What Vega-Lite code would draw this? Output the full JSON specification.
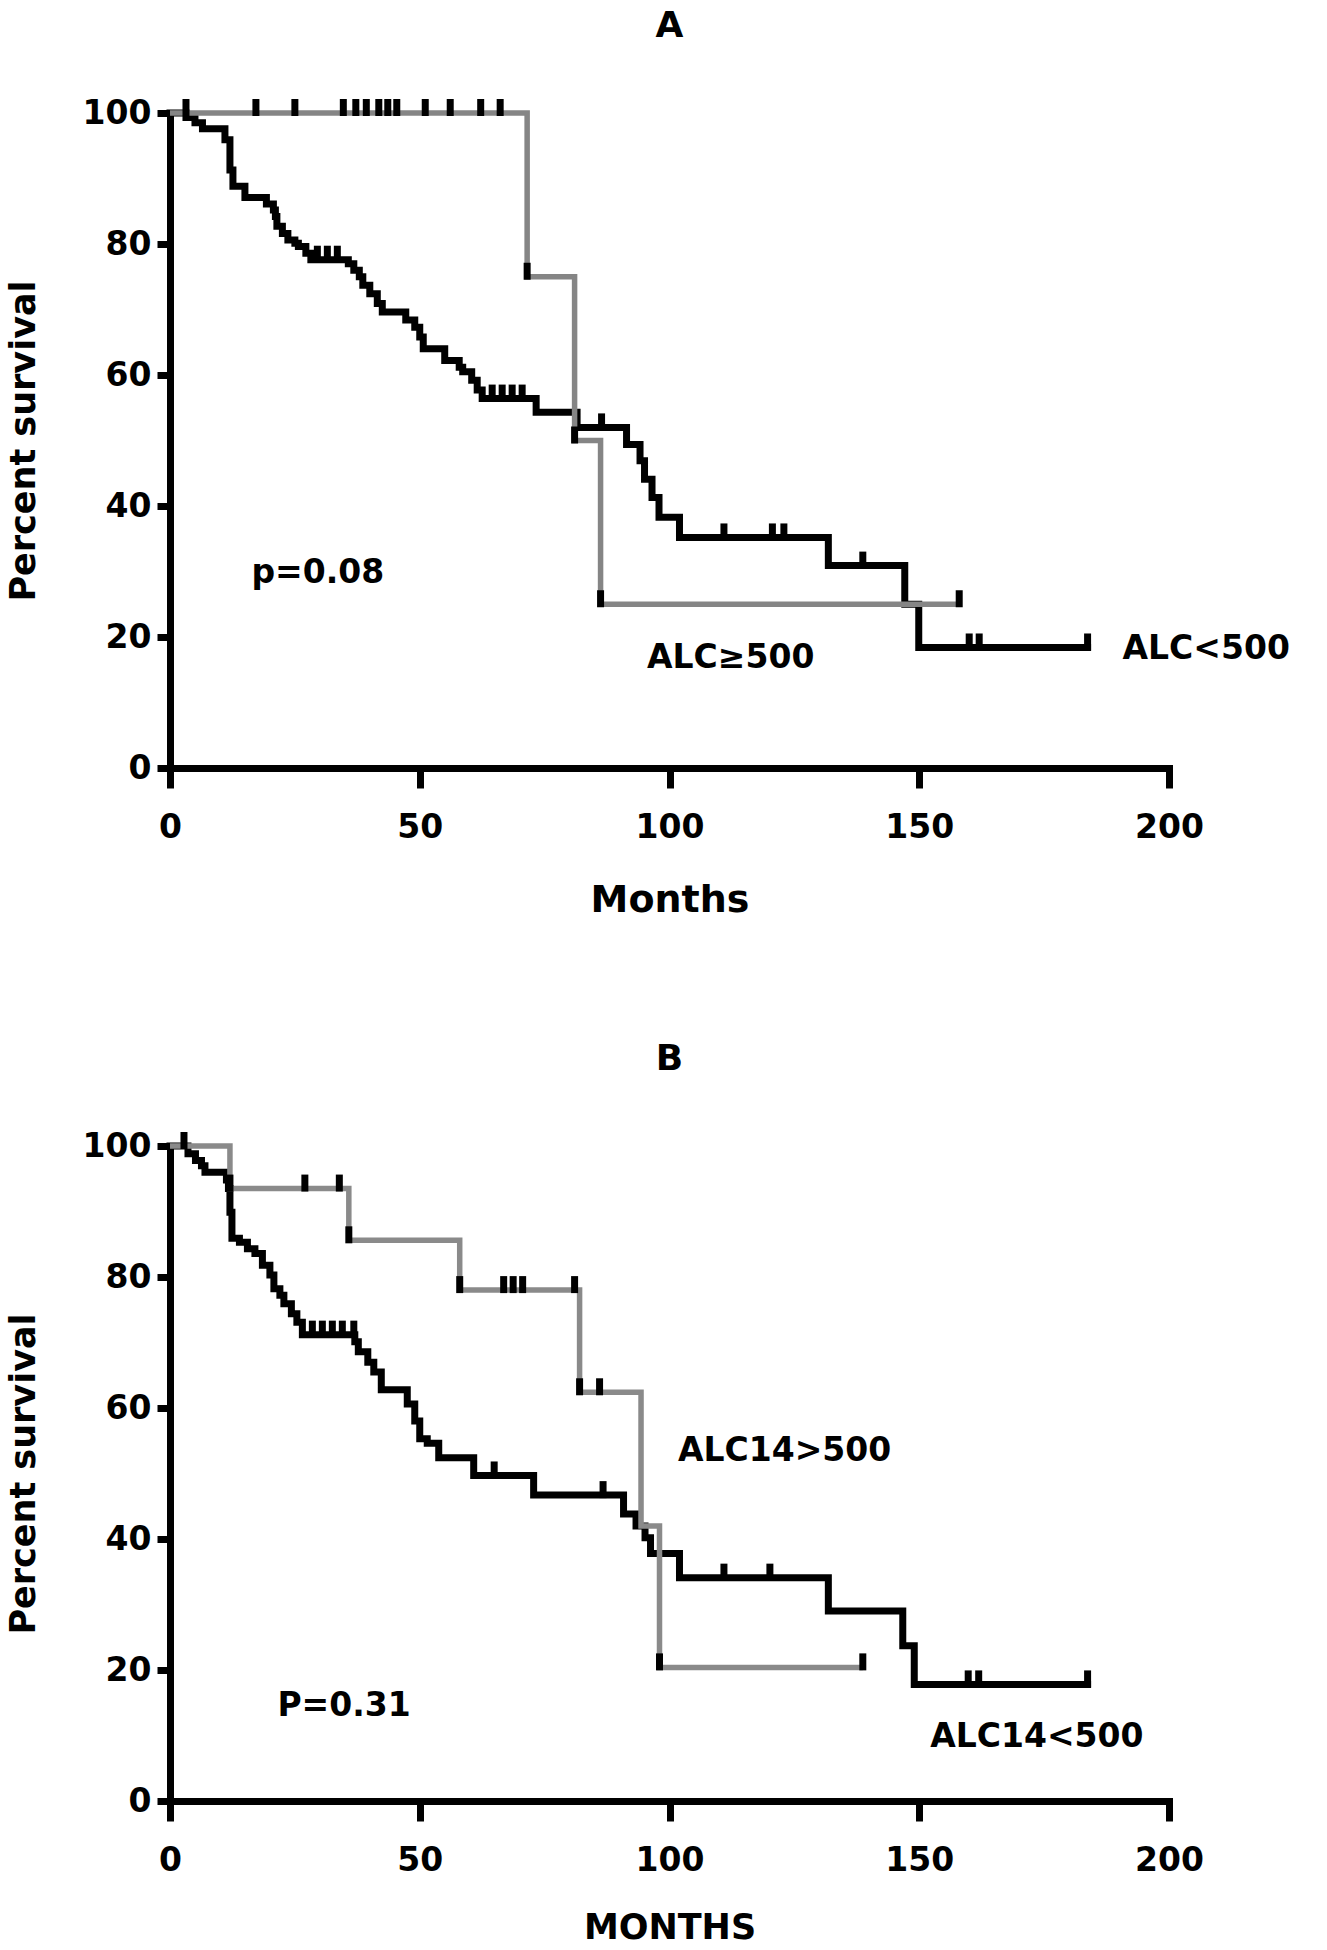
{
  "$schema": "https://vega.github.io/schema/vega-lite/v6.json",
  "background": "white",
  "padding": {"left": 6, "top": 8, "right": 5, "bottom": 2},
  "spacing": 122,
  "config": {
    "view": {"stroke": null},
    "axis": {"grid": false, "domainColor": "black", "tickColor": "black", "labelColor": "black", "titleColor": "black", "labelFont": "DejaVu Sans", "titleFont": "DejaVu Sans", "labelFontWeight": "bold", "titleFontWeight": "bold", "labelFlush": false, "domainCap": "square", "domainWidth": 7, "tickWidth": 7},
    "title": {"font": "DejaVu Sans", "fontWeight": "bold", "fontSize": 36, "color": "black", "anchor": "middle"}
  },
  "datasets": {
    "curves": [
      {"panel":"A","group":"lt","month":0,"surv":100},{"panel":"A","group":"lt","month":3.2,"surv":99.3},{"panel":"A","group":"lt","month":5.0,"surv":98.5},{"panel":"A","group":"lt","month":6.5,"surv":97.6},{"panel":"A","group":"lt","month":11.0,"surv":95.9},{"panel":"A","group":"lt","month":12.0,"surv":91.3},{"panel":"A","group":"lt","month":12.6,"surv":88.8},{"panel":"A","group":"lt","month":15.0,"surv":87.1},{"panel":"A","group":"lt","month":19.3,"surv":86.1},{"panel":"A","group":"lt","month":20.7,"surv":85.2},{"panel":"A","group":"lt","month":21.1,"surv":84.2},{"panel":"A","group":"lt","month":21.4,"surv":82.7},{"panel":"A","group":"lt","month":22.5,"surv":81.6},{"panel":"A","group":"lt","month":23.6,"surv":80.6},{"panel":"A","group":"lt","month":25.0,"surv":80.1},{"panel":"A","group":"lt","month":25.7,"surv":79.6},{"panel":"A","group":"lt","month":27.2,"surv":78.6},{"panel":"A","group":"lt","month":28.2,"surv":77.6},{"panel":"A","group":"lt","month":35.7,"surv":77.0},{"panel":"A","group":"lt","month":36.8,"surv":76.0},{"panel":"A","group":"lt","month":37.9,"surv":75.0},{"panel":"A","group":"lt","month":38.6,"surv":73.7},{"panel":"A","group":"lt","month":40.0,"surv":72.4},{"panel":"A","group":"lt","month":41.5,"surv":70.9},{"panel":"A","group":"lt","month":42.5,"surv":69.6},{"panel":"A","group":"lt","month":47.2,"surv":68.4},{"panel":"A","group":"lt","month":49.0,"surv":67.3},{"panel":"A","group":"lt","month":50.0,"surv":65.8},{"panel":"A","group":"lt","month":50.7,"surv":64.0},{"panel":"A","group":"lt","month":55.0,"surv":62.2},{"panel":"A","group":"lt","month":57.9,"surv":61.2},{"panel":"A","group":"lt","month":58.6,"surv":60.5},{"panel":"A","group":"lt","month":60.4,"surv":59.2},{"panel":"A","group":"lt","month":61.5,"surv":57.7},{"panel":"A","group":"lt","month":62.5,"surv":56.4},{"panel":"A","group":"lt","month":73.3,"surv":54.3},{"panel":"A","group":"lt","month":81.5,"surv":52.0},{"panel":"A","group":"lt","month":91.4,"surv":49.4},{"panel":"A","group":"lt","month":94.1,"surv":46.9},{"panel":"A","group":"lt","month":95.0,"surv":44.1},{"panel":"A","group":"lt","month":96.5,"surv":41.3},{"panel":"A","group":"lt","month":97.9,"surv":38.3},{"panel":"A","group":"lt","month":102.0,"surv":35.2},{"panel":"A","group":"lt","month":131.8,"surv":30.9},{"panel":"A","group":"lt","month":147.1,"surv":25.0},{"panel":"A","group":"lt","month":149.9,"surv":18.4},{"panel":"A","group":"lt","month":183.7,"surv":18.4},
      {"panel":"A","group":"ge","month":0,"surv":100},{"panel":"A","group":"ge","month":71.5,"surv":75},{"panel":"A","group":"ge","month":81.0,"surv":50},{"panel":"A","group":"ge","month":86.2,"surv":25},{"panel":"A","group":"ge","month":158.0,"surv":25},
      {"panel":"B","group":"lt","month":0,"surv":100},{"panel":"B","group":"lt","month":3.6,"surv":98.8},{"panel":"B","group":"lt","month":5.1,"surv":97.8},{"panel":"B","group":"lt","month":6.3,"surv":97.0},{"panel":"B","group":"lt","month":7.0,"surv":96.0},{"panel":"B","group":"lt","month":11.3,"surv":94.8},{"panel":"B","group":"lt","month":11.7,"surv":93.5},{"panel":"B","group":"lt","month":12.0,"surv":89.9},{"panel":"B","group":"lt","month":12.4,"surv":85.9},{"panel":"B","group":"lt","month":13.9,"surv":85.3},{"panel":"B","group":"lt","month":15.5,"surv":84.3},{"panel":"B","group":"lt","month":17.0,"surv":83.6},{"panel":"B","group":"lt","month":18.5,"surv":81.8},{"panel":"B","group":"lt","month":20.0,"surv":80.3},{"panel":"B","group":"lt","month":20.8,"surv":78.2},{"panel":"B","group":"lt","month":22.0,"surv":77.2},{"panel":"B","group":"lt","month":22.8,"surv":75.9},{"panel":"B","group":"lt","month":24.3,"surv":74.4},{"panel":"B","group":"lt","month":25.4,"surv":73.1},{"panel":"B","group":"lt","month":26.5,"surv":71.2},{"panel":"B","group":"lt","month":37.0,"surv":70.1},{"panel":"B","group":"lt","month":37.7,"surv":68.6},{"panel":"B","group":"lt","month":39.6,"surv":67.0},{"panel":"B","group":"lt","month":40.8,"surv":65.5},{"panel":"B","group":"lt","month":42.3,"surv":62.8},{"panel":"B","group":"lt","month":47.5,"surv":60.6},{"panel":"B","group":"lt","month":49.0,"surv":58.0},{"panel":"B","group":"lt","month":50.0,"surv":55.3},{"panel":"B","group":"lt","month":51.5,"surv":54.6},{"panel":"B","group":"lt","month":53.8,"surv":52.4},{"panel":"B","group":"lt","month":60.8,"surv":49.7},{"panel":"B","group":"lt","month":72.8,"surv":46.7},{"panel":"B","group":"lt","month":90.8,"surv":43.8},{"panel":"B","group":"lt","month":93.3,"surv":42.0},{"panel":"B","group":"lt","month":95.1,"surv":40.2},{"panel":"B","group":"lt","month":96.2,"surv":37.8},{"panel":"B","group":"lt","month":102.0,"surv":34.1},{"panel":"B","group":"lt","month":131.8,"surv":29.0},{"panel":"B","group":"lt","month":146.7,"surv":23.7},{"panel":"B","group":"lt","month":149.0,"surv":17.8},{"panel":"B","group":"lt","month":183.7,"surv":17.8},
      {"panel":"B","group":"ge","month":0,"surv":100},{"panel":"B","group":"ge","month":12.0,"surv":93.5},{"panel":"B","group":"ge","month":35.8,"surv":85.6},{"panel":"B","group":"ge","month":58.0,"surv":78.0},{"panel":"B","group":"ge","month":82.0,"surv":62.4},{"panel":"B","group":"ge","month":94.3,"surv":42.0},{"panel":"B","group":"ge","month":98.0,"surv":20.4},{"panel":"B","group":"ge","month":138.7,"surv":20.4}
    ],
    "censors": [
      {"panel":"A","group":"ge","month":3.2,"surv":100},{"panel":"A","group":"ge","month":17.2,"surv":100},{"panel":"A","group":"ge","month":25.0,"surv":100},{"panel":"A","group":"ge","month":34.7,"surv":100},{"panel":"A","group":"ge","month":37.2,"surv":100},{"panel":"A","group":"ge","month":39.3,"surv":100},{"panel":"A","group":"ge","month":41.8,"surv":100},{"panel":"A","group":"ge","month":43.6,"surv":100},{"panel":"A","group":"ge","month":45.4,"surv":100},{"panel":"A","group":"ge","month":51.1,"surv":100},{"panel":"A","group":"ge","month":56.1,"surv":100},{"panel":"A","group":"ge","month":62.2,"surv":100},{"panel":"A","group":"ge","month":66.1,"surv":100},{"panel":"A","group":"ge","month":71.5,"surv":75},{"panel":"A","group":"ge","month":81.0,"surv":50},{"panel":"A","group":"ge","month":86.2,"surv":25},{"panel":"A","group":"ge","month":158.0,"surv":25},
      {"panel":"A","group":"lt","month":29.5,"surv":77.6},{"panel":"A","group":"lt","month":31.5,"surv":77.6},{"panel":"A","group":"lt","month":33.5,"surv":77.6},{"panel":"A","group":"lt","month":64.5,"surv":56.4},{"panel":"A","group":"lt","month":66.5,"surv":56.4},{"panel":"A","group":"lt","month":68.5,"surv":56.4},{"panel":"A","group":"lt","month":70.5,"surv":56.4},{"panel":"A","group":"lt","month":86.4,"surv":52.0},{"panel":"A","group":"lt","month":110.9,"surv":35.2},{"panel":"A","group":"lt","month":120.6,"surv":35.2},{"panel":"A","group":"lt","month":122.9,"surv":35.2},{"panel":"A","group":"lt","month":138.7,"surv":30.9},{"panel":"A","group":"lt","month":160.0,"surv":18.4},{"panel":"A","group":"lt","month":162.0,"surv":18.4},{"panel":"A","group":"lt","month":183.7,"surv":18.4},
      {"panel":"B","group":"ge","month":12.0,"surv":93.5},{"panel":"B","group":"ge","month":27.0,"surv":93.5},{"panel":"B","group":"ge","month":33.9,"surv":93.5},{"panel":"B","group":"ge","month":35.8,"surv":85.6},{"panel":"B","group":"ge","month":58.0,"surv":78.0},{"panel":"B","group":"ge","month":66.8,"surv":78.0},{"panel":"B","group":"ge","month":68.7,"surv":78.0},{"panel":"B","group":"ge","month":70.6,"surv":78.0},{"panel":"B","group":"ge","month":81.0,"surv":78.0},{"panel":"B","group":"ge","month":82.0,"surv":62.4},{"panel":"B","group":"ge","month":86.0,"surv":62.4},{"panel":"B","group":"ge","month":98.0,"surv":20.4},{"panel":"B","group":"ge","month":138.7,"surv":20.4},
      {"panel":"B","group":"lt","month":2.8,"surv":100},{"panel":"B","group":"lt","month":28.5,"surv":71.2},{"panel":"B","group":"lt","month":30.5,"surv":71.2},{"panel":"B","group":"lt","month":32.5,"surv":71.2},{"panel":"B","group":"lt","month":34.5,"surv":71.2},{"panel":"B","group":"lt","month":36.8,"surv":71.2},{"panel":"B","group":"lt","month":64.9,"surv":49.7},{"panel":"B","group":"lt","month":86.7,"surv":46.7},{"panel":"B","group":"lt","month":110.9,"surv":34.1},{"panel":"B","group":"lt","month":120.1,"surv":34.1},{"panel":"B","group":"lt","month":159.8,"surv":17.8},{"panel":"B","group":"lt","month":161.9,"surv":17.8},{"panel":"B","group":"lt","month":183.7,"surv":17.8}
    ],
    "notes": [
      {"panel":"A","month":16.3,"surv":29.7,"label":"p=0.08"},
      {"panel":"A","month":95.5,"surv":16.8,"label":"ALC≥500"},
      {"panel":"A","month":190.7,"surv":18.1,"label":"ALC<500"},
      {"panel":"B","month":101.7,"surv":53.5,"label":"ALC14>500"},
      {"panel":"B","month":152.2,"surv":9.7,"label":"ALC14<500"},
      {"panel":"B","month":21.5,"surv":14.5,"label":"P=0.31"}
    ]
  },
  "vconcat": [
    {
      "title": {"text": "A", "offset": 52},
      "width": 999,
      "height": 655,
      "encoding": {
        "x": {"field": "month", "type": "quantitative", "scale": {"domain": [0, 200], "nice": false, "zero": false},
              "axis": {"values": [0, 50, 100, 150, 200], "title": "Months", "tickSize": 20, "labelFontSize": 33, "labelPadding": 23, "titleFontSize": 38, "titlePadding": 37}},
        "y": {"field": "surv", "type": "quantitative", "scale": {"domain": [0, 100], "nice": false, "zero": false},
              "axis": {"values": [0, 20, 40, 60, 80, 100], "title": "Percent survival", "tickSize": 13, "labelFontSize": 33, "labelPadding": 6, "titleFontSize": 35, "titlePadding": 41}}
      },
      "layer": [
        {"data": {"name": "curves"}, "transform": [{"filter": "datum.panel === 'A' && datum.group === 'lt'"}],
         "mark": {"type": "line", "interpolate": "step-after", "color": "black", "strokeWidth": 7, "strokeJoin": "miter", "strokeCap": "square"}},
        {"data": {"name": "curves"}, "transform": [{"filter": "datum.panel === 'A' && datum.group === 'ge'"}],
         "mark": {"type": "line", "interpolate": "step-after", "color": "#858585", "strokeWidth": 5.5, "strokeJoin": "miter", "strokeCap": "butt"}},
        {"data": {"name": "censors"}, "transform": [{"filter": "datum.panel === 'A'"}],
         "mark": {"type": "point", "shape": "M-0.35,-1.4H0.35V0.3H-0.35Z", "size": 400, "filled": true, "color": "black", "opacity": 1, "strokeWidth": 0}},
        {"data": {"name": "notes"}, "transform": [{"filter": "datum.panel === 'A'"}],
         "mark": {"type": "text", "align": "left", "baseline": "middle", "font": "DejaVu Sans", "fontWeight": "bold", "fontSize": 33, "color": "black"},
         "encoding": {"text": {"field": "label"}}}
      ]
    },
    {
      "title": {"text": "B", "offset": 52},
      "width": 999,
      "height": 655,
      "encoding": {
        "x": {"field": "month", "type": "quantitative", "scale": {"domain": [0, 200], "nice": false, "zero": false},
              "axis": {"values": [0, 50, 100, 150, 200], "title": "MONTHS", "tickSize": 20, "labelFontSize": 33, "labelPadding": 23, "titleFontSize": 35, "titlePadding": 33}},
        "y": {"field": "surv", "type": "quantitative", "scale": {"domain": [0, 100], "nice": false, "zero": false},
              "axis": {"values": [0, 20, 40, 60, 80, 100], "title": "Percent survival", "tickSize": 13, "labelFontSize": 33, "labelPadding": 6, "titleFontSize": 35, "titlePadding": 41}}
      },
      "layer": [
        {"data": {"name": "curves"}, "transform": [{"filter": "datum.panel === 'B' && datum.group === 'lt'"}],
         "mark": {"type": "line", "interpolate": "step-after", "color": "black", "strokeWidth": 7, "strokeJoin": "miter", "strokeCap": "square"}},
        {"data": {"name": "curves"}, "transform": [{"filter": "datum.panel === 'B' && datum.group === 'ge'"}],
         "mark": {"type": "line", "interpolate": "step-after", "color": "#8a8a8a", "strokeWidth": 5.5, "strokeJoin": "miter", "strokeCap": "butt"}},
        {"data": {"name": "censors"}, "transform": [{"filter": "datum.panel === 'B'"}],
         "mark": {"type": "point", "shape": "M-0.35,-1.4H0.35V0.3H-0.35Z", "size": 400, "filled": true, "color": "black", "opacity": 1, "strokeWidth": 0}},
        {"data": {"name": "notes"}, "transform": [{"filter": "datum.panel === 'B'"}],
         "mark": {"type": "text", "align": "left", "baseline": "middle", "font": "DejaVu Sans", "fontWeight": "bold", "fontSize": 33, "color": "black"},
         "encoding": {"text": {"field": "label"}}}
      ]
    }
  ]
}
